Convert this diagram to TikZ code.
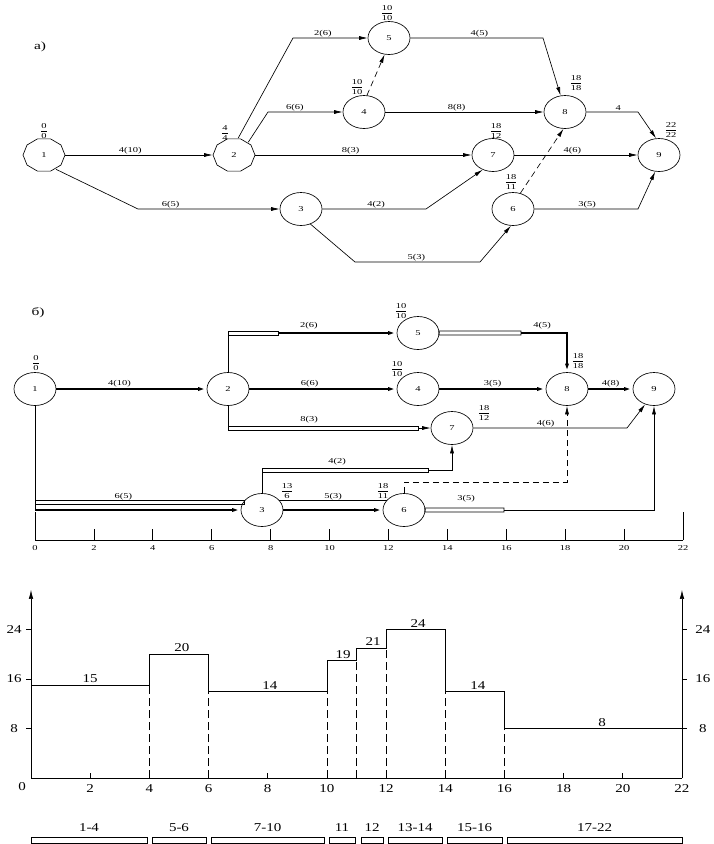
\documentclass[tikz,border=0pt]{standalone}
\usepackage{amsmath}
\usepackage{fontspec}
\setmainfont{Liberation Serif}
\newfontfamily\netfont[FakeStretch=1.4]{Liberation Serif}
\newfontfamily\histfont[FakeStretch=1.25]{Liberation Serif}
\usetikzlibrary{shapes.geometric,arrows.meta}
\newcommand\fr[2]{$\genfrac{}{}{0.4pt}{0}{\mbox{#1}}{\mbox{#2}}$}
\begin{document}
\begin{tikzpicture}[x=1pt,y=-1pt,line width=0.65pt,
  nd/.style={ellipse,draw,minimum width=42pt,minimum height=33pt,inner sep=0pt,font=\netfont\fontsize{7.5}{8}\selectfont},
  pnd/.style={nd,draw=none,minimum height=34pt},
  arr/.style={-{Latex[length=8.5pt,width=4pt]}},
  thk/.style={line width=1.8pt},
  lbl/.style={font=\netfont\fontsize{7.5}{8}\selectfont,inner sep=1pt},
  frl/.style={font=\netfont\fontsize{7.5}{8}\selectfont,inner sep=0pt},
  dsh/.style={dash pattern=on 6pt off 4pt},
  hdsh/.style={dash pattern=on 8pt off 4pt},
  ttl/.style={font=\netfont\fontsize{11}{12}\selectfont},
  hl/.style={font=\histfont\fontsize{12}{13}\selectfont,inner sep=1pt}
]
\fill[white] (0,0) rectangle (714,844);
\useasboundingbox (0,0) rectangle (714,844);

% ---------------- a) ----------------
\node[ttl] (ta) at (40,47) {a)};
\node[pnd] (a1) at (44,155) {1};
\node[pnd] (a2) at (234,155) {2};
\foreach \n in {a1,a2} \draw[shift={(\n.center)}] plot[domain=0:360,samples=11] ({21*cos(\x)},{17*sin(\x)}) -- cycle;
\node[nd] (a3) at (301,209) {3};
\node[nd] (a4) at (364,112) {4};
\node[nd] (a5) at (389,38) {5};
\node[nd] (a6) at (513,209) {6};
\node[nd] (a7) at (493,155) {7};
\node[nd] (a8) at (565,112) {8};
\node[nd] (a9) at (659,155) {9};

\node[frl] (fa1) at (44,131) {\fr{0}{0}};
\node[frl] (fa2) at (225,133) {\fr{4}{4}};
\node[frl] (fa4) at (357,87) {\fr{10}{10}};
\node[frl] (fa5) at (387,13) {\fr{10}{10}};
\node[frl] (fa8) at (576,83) {\fr{18}{18}};
\node[frl] (fa7) at (496,131) {\fr{18}{12}};
\node[frl] (fa6) at (511,182) {\fr{18}{11}};
\node[frl] (fa9) at (671,130) {\fr{22}{22}};

\draw[arr] (a1) -- node[lbl,above,pos=0.44]{4(10)} (a2);
\draw[arr] (a1.-50) -- (138,209) -- node[lbl,above,pos=0.23]{6(5)} (a3);
\draw[arr] (a2.76) -- (293,38) -- node[lbl,above,pos=0.4]{2(6)} (a5);
\draw[arr] (a2.42) -- (268,112) -- node[lbl,above,pos=0.36]{6(6)} (a4);
\draw[arr] (a2) -- node[lbl,above,pos=0.44]{8(3)} (a7);
\draw[arr,dsh] (a4.80) -- (a5.-105);
\draw[arr] (a4) -- node[lbl,above,pos=0.45]{8(8)} (a8);
\draw[arr] (a5) -- node[lbl,above,pos=0.52]{4(5)} (543,38) -- (a8.105);
\draw[arr] (a8) -- node[lbl,above,pos=0.62]{4} (638,112) -- (a9.100);
\draw[arr] (a7) -- node[lbl,above,pos=0.47]{4(6)} (a9);
\draw[arr,dsh] (a6.65) -- (a8.-95);
\draw[arr] (a6) -- node[lbl,above,pos=0.51]{3(5)} (638,209) -- (a9.-103);
\draw[arr] (a3) -- node[lbl,above,pos=0.52]{4(2)} (426,209) -- (a7.-125);
\draw[arr] (a3.-58) -- (355,262) -- node[lbl,above,pos=0.49]{5(3)} (480,262) -- (a6.-97);

% ---------------- b) ----------------
\node[ttl] (tb) at (38,313) {б)};
\node[nd] (b1) at (35,389) {1};
\node[nd] (b2) at (228,389) {2};
\node[nd] (b3) at (262,510) {3};
\node[nd] (b4) at (418,389) {4};
\node[nd] (b5) at (418,333) {5};
\node[nd] (b6) at (404,510) {6};
\node[nd] (b7) at (452,428) {7};
\node[nd] (b8) at (567,389) {8};
\node[nd] (b9) at (654,389) {9};

\node[frl] (fb1) at (36,363) {\fr{0}{0}};
\node[frl] (fb5) at (401,311) {\fr{10}{10}};
\node[frl] (fb4) at (397,369) {\fr{10}{10}};
\node[frl] (fb8) at (578,361) {\fr{18}{18}};
\node[frl] (fb7) at (484,413) {\fr{18}{12}};
\node[frl] (fb6) at (383,491) {\fr{18}{11}};
\node[frl] (fb3) at (287,491) {\fr{13}{6}};

\draw[thk,arr] (b1) -- node[lbl,above,pos=0.42]{4(10)} (b2);
% 2 -> 5
\draw (b2.north) -- (228,331) rectangle (278,335);
\draw[thk,arr] (278,333) -- node[lbl,above=2pt,pos=0.26]{2(6)} (b5);
% 2 -> 4
\draw[thk,arr] (b2) -- node[lbl,above,pos=0.41]{6(6)} (b4);
% 2 -> 7
\draw (b2.south) -- (228,430);
\draw (228,426) rectangle (418,430);
\draw[arr] (418,428) -- (b7);
\node[lbl] (l83) at (309,420) {8(3)};
% 5 -> 8
\draw (b5.east) -- (439,331) rectangle (521,335);
\draw[thk,arr] (521,333) -- node[lbl,above=2pt,pos=0.46]{4(5)} (567,333) -- (b8.north);
% 4 -> 8, 8 -> 9
\draw[thk,arr] (b4) -- node[lbl,above,pos=0.5]{3(5)} (b8);
\draw[thk,arr] (b8) -- node[lbl,above,pos=0.5]{4(8)} (b9);
% 7 -> 9
\draw[arr] (b7.east) -- node[lbl,above,pos=0.47]{4(6)} (627,428) -- (b9.-120);
% 3 -> 7
\draw (b3.north) -- (262,468);
\draw (262,468) rectangle (428,472);
\draw[arr] (428,470) -| (b7.south);
\node[lbl] (l42) at (337,462) {4(2)};
% 1 -> 3
\draw (b1.south) -- (35,510);
\draw (35,500) rectangle (244,504);
\draw[thk,arr] (35,510) -- node[lbl,above=8.5pt,pos=0.43]{6(5)} (b3);
% 3 -> 6
\draw (b3.30) -- (b6.150);
\draw[thk,arr] (b3) -- node[lbl,above=8.5pt,pos=0.5]{5(3)} (b6);
% 6 -> 8 dashed
\draw[arr,dsh] (b6.north) -- (404,482) -| (b8.south);
% 6 -> 9
\draw (b6.east) -- (425,508) rectangle (504,512);
\draw[arr] (504,510) -| (b9.south);
\node[lbl] (l35) at (466,499) {3(5)};

% time axis
\begin{scope}[shift={(35,540)},x=29.4545pt,y=1pt]
  \draw (0,0) -- (22,0);
  \draw (0,0) -- (0,28);
  \draw (22,0) -- (22,28);
  \foreach \t in {2,4,...,20} \draw (\t,0) -- (\t,11);
  \foreach \t in {0,2,...,22} \node[lbl] at (\t,-8) {\t};
\end{scope}

% ---------------- histogram ----------------
\begin{scope}[shift={(31,778)},x=29.59pt,y=6.1875pt]
  \draw[-{Latex[length=9pt,width=4.5pt]}] (0,0) -- (0,30.4);
  \draw[-{Latex[length=9pt,width=4.5pt]}] (22,0) -- (22,30.4);
  \draw (0,0) -- (22,0);
  \foreach \v in {8,16,24} {
    \draw (0,\v) -- ++(-5pt,0);
    \draw (22,\v) -- ++(5pt,0);
    \node[hl] at ([xshift=-17pt]0,\v) {\v};
    \node[hl] at ([xshift=21pt]22,\v) {\v};
  }
  \node[hl] at ([xshift=-9pt,yshift=-9pt]0,0) {0};
  \foreach \t in {2,4,...,22} \node[hl] at ([yshift=-11pt]\t,0) {\t};
  \foreach \t in {2,8,18,20} \draw (\t,0) -- ++(0,5pt);
  \draw (0,15) -- (4,15) -- (4,20) -- (6,20) -- (6,14) -- (10,14) -- (10,19) -- (11,19) -- (11,21) -- (12,21) -- (12,24) -- (14,24) -- (14,14) -- (16,14) -- (16,8) -- (22,8);
  \foreach \t/\v in {4/15,6/14,10/14,11/19,12/21,14/14,16/8} \draw[hdsh] (\t,0) -- (\t,\v);
  \foreach \t/\v in {2/15,5.1/20,8.07/14,10.55/19,11.56/21,13.08/24,15.1/14,19.3/8} \node[hl,above=1pt] at (\t,\v) {\v};
\end{scope}

% bars
\foreach \a/\b/\l in {31/147/1-4,152/206/5-6,211/324/7-10,329/355/11,361/383/12,388/442/13-14,447/502/15-16,507/682/17-22} {
  \draw (\a,837) rectangle (\b,843);
  \node[hl] at ({(\a+\b)/2},828) {\l};
}
\end{tikzpicture}
\end{document}
